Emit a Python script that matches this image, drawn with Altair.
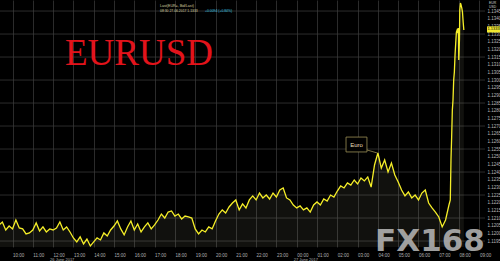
import altair as alt
import pandas as pd

# ---- data (hours since 26 June 2017 00:00, EURUSD price) ----
main_start_hour = 9 + 20 / 60          # 26 Jun 09:20
main_step_min = 10
main_prices = [
    1.12055, 1.12074, 1.12022, 1.12048, 1.12029, 1.12087, 1.12035, 1.12029, 1.11996, 1.12003,
    1.12022, 1.12068, 1.12016, 1.12042, 1.12009, 1.12029, 1.12022, 1.12035, 1.12074, 1.12022,
    1.12042, 1.12009, 1.11970, 1.11944, 1.11977, 1.11931, 1.11963, 1.11918, 1.11944, 1.11970,
    1.11957, 1.12003, 1.11983, 1.12022, 1.12048, 1.12081, 1.12029, 1.11990, 1.12042, 1.12081,
    1.12022, 1.12061, 1.12009, 1.12042, 1.12068, 1.12029, 1.12055, 1.12087, 1.12126, 1.12100,
    1.12139, 1.12146, 1.12113, 1.12126, 1.12094, 1.12113, 1.12107, 1.12100, 1.12029, 1.11996,
    1.12022, 1.12009, 1.12042, 1.12029, 1.12081, 1.12126, 1.12153, 1.12133, 1.12172, 1.12198,
    1.12218, 1.12153, 1.12192, 1.12166, 1.12218, 1.12244, 1.12218, 1.12263, 1.12231, 1.12250,
    1.12224, 1.12263, 1.12237, 1.12283, 1.12296, 1.12231, 1.12218, 1.12185, 1.12166, 1.12179,
    1.12153, 1.12166, 1.12139, 1.12185, 1.12205, 1.12185, 1.12224, 1.12211, 1.12250, 1.12237,
    1.12276, 1.12309, 1.12296, 1.12329, 1.12315, 1.12348, 1.12322, 1.12361, 1.12342, 1.12368,
    1.12302, 1.12446, 1.12524, 1.12426, 1.12478, 1.12400, 1.12459, 1.12381, 1.12335, 1.12283,
    1.12244, 1.12270, 1.12231, 1.12250, 1.12218, 1.12263, 1.12283, 1.12198, 1.12166, 1.12139,
    1.12107, 1.12042, 1.12087, 1.12185,
]
tail_base_hour = 31.5                   # 27 Jun 07:30
tail_minutes = [4, 6, 8, 10, 12, 14, 16, 18, 20, 22, 24, 26, 28, 29, 31, 32, 34, 36, 38, 40, 42, 44]
tail_prices = [1.12218, 1.12478, 1.12628, 1.12804, 1.12870, 1.13000, 1.13052, 1.13163, 1.13241,
               1.13313, 1.13326, 1.13306, 1.13339, 1.13130, 1.13261, 1.13456, 1.13502, 1.13489,
               1.13469, 1.13443, 1.13378, 1.13326]

x_ticks = list(range(9, 34))            # hourly ticks
y_labels = [round(1.1195 + 0.0005 * k, 4) for k in range(31)]
y_grid = [1.1345, 1.1330, 1.1315, 1.1300, 1.1285, 1.1270, 1.1255, 1.1240, 1.1225, 1.1210, 1.1195]
date_hours = [12, 24]
date_texts = ["26 June 2017", "27 June 2017"]
last_price = 1.1333
callout_box = {"h": 26.43, "h2": 27.46, "p": 1.12628, "p2": 1.12531}
callout_line = {"h": 27.46, "h2": 27.97, "p": 1.12544, "p2": 1.12524}

hours = [main_start_hour + i * main_step_min / 60 for i in range(len(main_prices))] + \
        [tail_base_hour + m / 60 for m in tail_minutes]
prices = main_prices + tail_prices
df = pd.DataFrame({"h": hours, "p": prices})

xs = alt.Scale(domain=[9.3842, 33.2759], nice=False, zero=False)
ys = alt.Scale(domain=[1.11911, 1.13522], nice=False, zero=False)
label_expr = "(datum.value % 24 < 10 ? '0' : '') + (datum.value % 24) + ':00'"
xaxis = alt.Axis(values=x_ticks, labelExpr=label_expr, grid=True, gridColor="#3e3e3e",
                 gridWidth=0.7, domain=False, ticks=False, labelAlign="left", labelPadding=5,
                 labelFontSize=4.5, labelColor="#b0b0b0", title=None, labelFlush=False,
                 labelOverlap=False, labelFont="Liberation Sans", labelBaseline="top")
yaxis = alt.Axis(orient="right", values=y_labels, format=".4f", labelFontSize=4.5,
                 labelColor="#b8b8b8", domain=False, ticks=False, grid=False, title=None,
                 labelPadding=2, labelOverlap=False, labelFont="Liberation Sans")

X = lambda f="h": alt.X(f"{f}:Q", scale=xs, axis=xaxis)
Y = lambda f="p": alt.Y(f"{f}:Q", scale=ys, axis=yaxis)

grid = alt.Chart(pd.DataFrame({"p": y_grid})).mark_rule(
    color="#3e3e3e", strokeWidth=0.7).encode(y=Y())

area = alt.Chart(df).mark_area(color="#d8d8b0", opacity=0.08, clip=True).encode(x=X(), y=Y())
line = alt.Chart(df).mark_line(color="#f5ee28", strokeWidth=1.3, clip=True).encode(x=X(), y=Y())

box = alt.Chart(pd.DataFrame([callout_box])).mark_rect(
    fill="#000000", stroke="#9c8f55", strokeWidth=0.8).encode(
    x=X(), x2="h2:Q", y=Y(), y2="p2:Q")
box_text = alt.Chart(pd.DataFrame([{"h": (callout_box["h"] + callout_box["h2"]) / 2,
                                    "p": (callout_box["p"] + callout_box["p2"]) / 2,
                                    "t": "Euro"}])).mark_text(
    color="#e6dfb8", fontSize=6, font="Liberation Sans").encode(x=X(), y=Y(), text="t:N")
conn = alt.Chart(pd.DataFrame([callout_line])).mark_rule(
    color="#9c8f55", strokeWidth=0.8).encode(x=X(), x2="h2:Q", y=Y(), y2="p2:Q")

price_box = alt.Chart(pd.DataFrame({"p": [last_price + 0.0002], "p2": [last_price - 0.0002]})).mark_rect(
    fill="#f0e830").encode(x=alt.value(487), x2=alt.value(500), y=Y(), y2="p2:Q")
price_text = alt.Chart(pd.DataFrame({"p": [last_price], "t": [f"{last_price:.4f}"]})).mark_text(
    color="#000000", fontSize=4, align="left", font="Liberation Sans").encode(
    x=alt.value(487.5), y=Y(), text="t:N")

dates = alt.Chart(pd.DataFrame({"h": date_hours, "t": date_texts})).mark_text(
    color="#b0b0b0", fontSize=4, align="left", dx=-3, font="Liberation Sans").encode(
    x=X(), y=alt.value(259.5), text="t:N")

def label(txt, x, y, size, color, font="Liberation Sans", weight="normal", align="left", opacity=1.0):
    return alt.Chart(pd.DataFrame({"t": [txt]})).mark_text(
        color=color, fontSize=size, font=font, fontWeight=weight, align=align,
        baseline="alphabetic", opacity=opacity).encode(
        x=alt.value(x), y=alt.value(y), text="t:N")

title = label("EURUSD", 65, 65, 37, "#e3131b", font="Liberation Serif")
hdr1 = label("Last(EUR=, Bid/Last)", 160, 7, 3.6, "#d8d0a0")
hdr2 = label("08:30 27.06.2017  1.1333", 160, 12, 3.4, "#d8d0a0")
hdr3 = label("+0.0094 (+0.84%)", 205, 12, 3.4, "#3cc8e0")
cur1 = label("EUR", 489, 3.5, 3.4, "#d0d0d0")
cur2 = label("USD", 489, 7.5, 3.4, "#d0d0d0")
wm = label("FX168", 430, 251, 31, "#b4b4b4", font="DejaVu Sans", weight="bold",
           align="center", opacity=0.88)

chart = alt.layer(grid, area, line, conn, box, box_text, price_box, price_text, dates,
                  title, hdr1, hdr2, hdr3, cur1, cur2, wm).properties(
    width=485, height=247,
    autosize=alt.AutoSizeParams(type="none"),
    padding={"left": 0, "top": 0, "right": 15, "bottom": 14},
    background="#000000",
).configure_view(stroke=None)

chart.save("out.html", embed_options={"renderer": "svg", "actions": False})
